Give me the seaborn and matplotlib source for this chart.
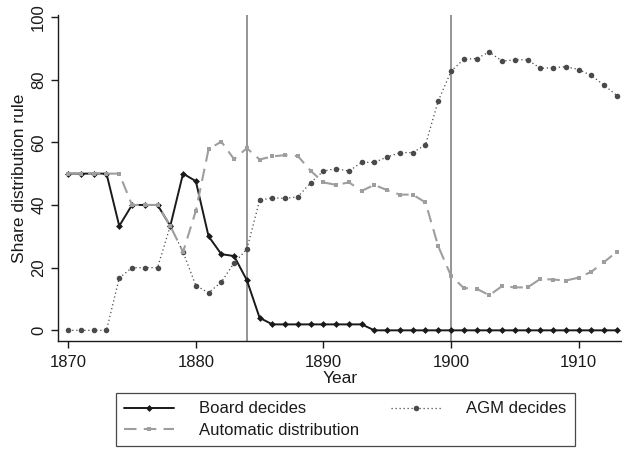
import numpy as np
import pandas as pd
import matplotlib
matplotlib.use("Agg")
import matplotlib.pyplot as plt
import seaborn as sns

years = list(range(1870, 1914))

board = [50, 50, 50, 50, 33.3, 40, 40, 40, 33.3, 50, 47.6, 30.0, 24.3, 23.7, 16.0, 4.0,
         1.9, 1.9, 1.9, 1.9, 1.9, 1.9, 1.9, 1.9] + [0] * 20

agm = [0, 0, 0, 0, 16.7, 20, 20, 20, 33.3,
       25, 14.3, 12.0, 15.4, 21.5, 25.9, 41.5, 42.3, 42.1, 42.6, 47.1, 50.8, 51.6, 50.8,
       53.6, 53.6, 55.3, 56.7, 56.7, 59.2, 73.2, 82.6, 86.5, 86.7, 88.8, 85.9, 86.3, 86.3,
       83.6, 83.8, 84.1, 83.2, 81.3, 78.2, 74.9]

auto = [50, 50, 50, 50, 50, 40, 40, 40, 33.3,
        25, 38.1, 57.8, 60.2, 54.6, 58.1, 54.5, 55.5, 55.9, 55.6, 50.9, 47.2, 46.4, 47.2,
        44.5, 46.4, 44.7, 43.3, 43.3, 40.8, 26.8, 17.4, 13.5, 13.3, 11.2, 14.1, 13.7, 13.7,
        16.4, 16.2, 15.9, 16.8, 18.7, 21.8, 25.1]

vlines = [1884, 1900]
xticks = [1870, 1880, 1890, 1900, 1910]
yticks = [0, 20, 40, 60, 80, 100]

df = pd.DataFrame({"Year": years, "Board": board, "AGM": agm, "Auto": auto})

sns.set_theme(style="ticks")
plt.rcParams["font.family"] = ["Liberation Sans", "DejaVu Sans"]
plt.rcParams["text.color"] = "#1a1a1a"
plt.rcParams["axes.labelcolor"] = "#1a1a1a"
plt.rcParams["xtick.color"] = "#1a1a1a"
plt.rcParams["ytick.color"] = "#1a1a1a"

fig = plt.figure(figsize=(6.22, 4.5), dpi=100)
ax = fig.add_axes([58 / 622, 1 - 341 / 450, 1 - 58 / 622, (341 - 15) / 450])

for xv in vlines:
    ax.axvline(xv, color="#8c8c8c", lw=1.3, zorder=1)

sns.lineplot(data=df, x="Year", y="Board", ax=ax, color="#1a1a1a", lw=1.4,
             marker="D", markersize=3.5, markeredgewidth=0, label="Board decides", zorder=3)
sns.lineplot(data=df, x="Year", y="AGM", ax=ax, color="#4a4a4a", lw=0.9,
             linestyle=(0, (1, 2.2)), marker="o", markersize=4, markeredgewidth=0,
             label="AGM decides", zorder=4)
sns.lineplot(data=df, x="Year", y="Auto", ax=ax, color="#9e9e9e", lw=1.5,
             linestyle=(0, (6, 3.5)), marker="s", markersize=3.5, markeredgewidth=0,
             label="Automatic distribution", zorder=5)

ax.set_xlim(1869.2, 1913.4)
ax.set_ylim(-3.4, 100.6)
ax.set_xticks(xticks)
ax.set_yticks(yticks)
ax.set_xticklabels([str(t) for t in xticks], fontsize=12)
ax.set_yticklabels([str(t) for t in yticks], fontsize=12, rotation=90, va="center")
ax.tick_params(axis="both", direction="out", length=5, width=1, colors="#1a1a1a")
ax.tick_params(axis="x", pad=5)
ax.set_xlabel("Year", fontsize=12.5, labelpad=1)
ax.set_ylabel("Share distribution rule", fontsize=12.5, labelpad=3)
sns.despine(ax=ax, top=True, right=True)
for s in ["left", "bottom"]:
    ax.spines[s].set_color("#1a1a1a")
    ax.spines[s].set_linewidth(1.0)

handles, labels = ax.get_legend_handles_labels()
ax.get_legend().remove()
order = [0, 2, 1]
leg = fig.legend([handles[i] for i in order], [labels[i] for i in order],
                 loc="upper left", bbox_to_anchor=(116 / 622, 0.0, 459 / 622, 1 - 393 / 450),
                 mode="expand", ncol=2, borderaxespad=0,
                 fontsize=12, frameon=True, fancybox=False, handlelength=3.0,
                 labelspacing=0.4, borderpad=0.5,
                 handletextpad=1.5, edgecolor="#1a1a1a")
leg.get_frame().set_linewidth(0.9)

fig.savefig("out.png", dpi=100)
